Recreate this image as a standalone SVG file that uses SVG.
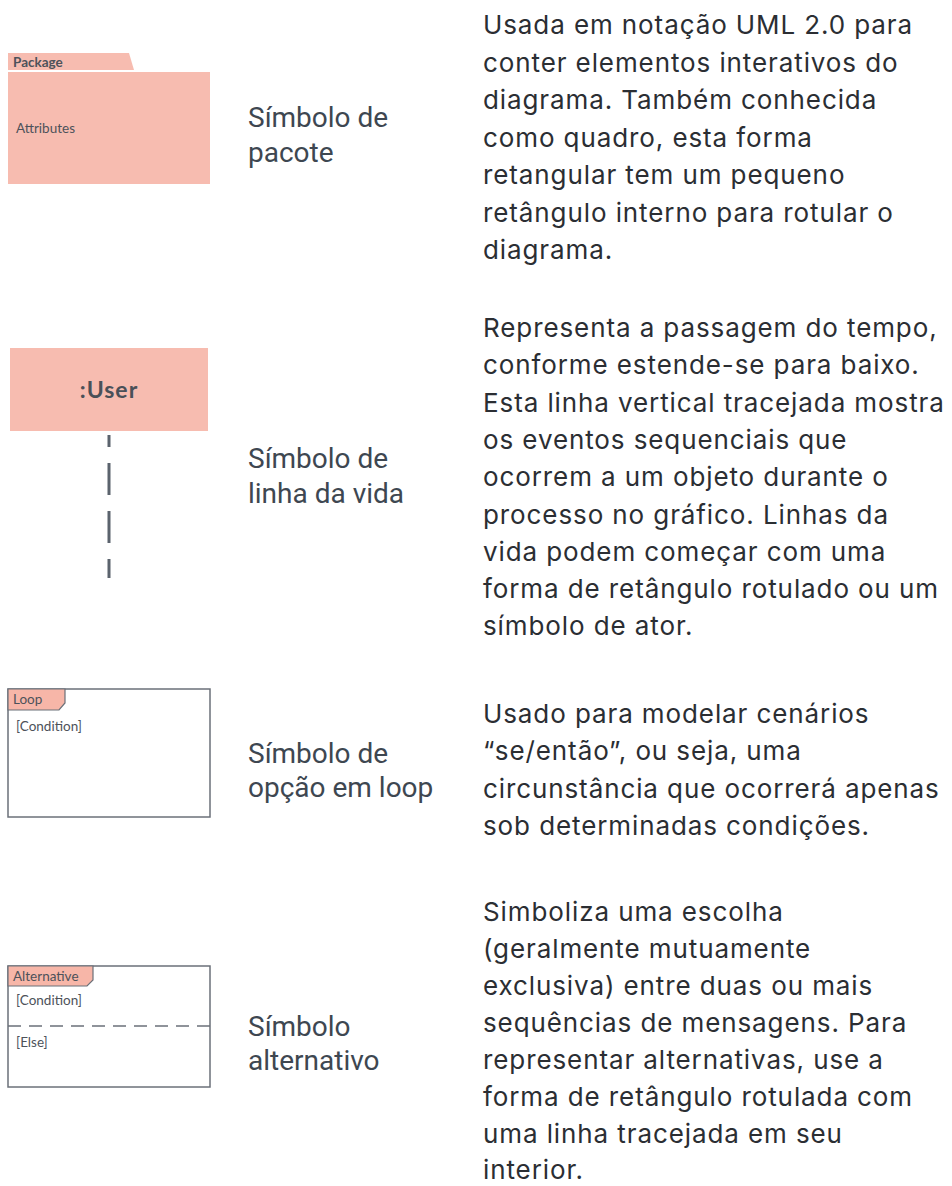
<svg xmlns="http://www.w3.org/2000/svg" width="952" height="1186" viewBox="0 0 952 1186">
<style>
.desc{font-family:Inter,"Noto Sans",sans-serif;font-size:26px;letter-spacing:0.9px;fill:#2b2e33}
.lbl{font-family:Roboto,"Liberation Sans",sans-serif;font-size:28px;fill:#3e4751}
.small{font-family:"Lato","Liberation Sans",sans-serif;font-size:13.5px;fill:#4d525a}
.pink{fill:#f7bcb0}
.frame{fill:#ffffff;stroke:#6b7079;stroke-width:1.5}
.tab{fill:#f7b6a8;stroke:#6b7079;stroke-width:1.2}
</style>
<rect width="952" height="1186" fill="#ffffff"/>

<g id="package">
<path class="pink" d="M8 53 H129 L134 70 H8 Z"/>
<rect class="pink" x="8" y="72" width="202" height="112"/>
<text class="small" x="13" y="67" font-weight="bold">Package</text>
<text class="small" x="16" y="133">Attributes</text>
</g>

<g id="lifeline">
<rect class="pink" x="10" y="348" width="198" height="83"/>
<text x="109" y="398" text-anchor="middle" font-family="Lato,'Liberation Sans',sans-serif" font-size="23" font-weight="bold" letter-spacing="1" fill="#4a5058">:User</text>
</g>

<g id="connectors">
<line x1="109" y1="435" x2="109" y2="578" stroke="#5b636d" stroke-width="3" stroke-dasharray="32 16" stroke-dashoffset="20"/>
</g>

<g id="loop">
<rect class="frame" x="8" y="689" width="202" height="128"/>
<path class="tab" d="M8 689 H65 V703 L59 710 H8 Z"/>
<text class="small" x="13" y="704">Loop</text>
<text class="small" x="16" y="731">[Condition]</text>
</g>

<g id="alternative">
<rect class="frame" x="8" y="966" width="202" height="121"/>
<path class="tab" d="M8 966 H93 V980 L87 986 H8 Z"/>
<text class="small" x="13" y="981">Alternative</text>
<text class="small" x="16" y="1005">[Condition]</text>
<line x1="8" y1="1026" x2="210" y2="1026" stroke="#6b7079" stroke-width="1.5" stroke-dasharray="13 8"/>
<text class="small" x="16" y="1047">[Else]</text>
</g>

<g id="labels">
<text class="lbl" x="248" y="127">Símbolo de</text>
<text class="lbl" x="248" y="162">pacote</text>
<text class="lbl" x="248" y="468">Símbolo de</text>
<text class="lbl" x="248" y="503">linha da vida</text>
<text class="lbl" x="248" y="763">Símbolo de</text>
<text class="lbl" x="248" y="797">opção em loop</text>
<text class="lbl" x="248" y="1036">Símbolo</text>
<text class="lbl" x="248" y="1070">alternativo</text>
</g>

<g id="descriptions">
<text class="desc" x="483" y="34">Usada em notação UML 2.0 para</text>
<text class="desc" x="483" y="71.5">conter elementos interativos do</text>
<text class="desc" x="483" y="109">diagrama. Também conhecida</text>
<text class="desc" x="483" y="146.5">como quadro, esta forma</text>
<text class="desc" x="483" y="184">retangular tem um pequeno</text>
<text class="desc" x="483" y="221.5">retângulo interno para rotular o</text>
<text class="desc" x="483" y="259">diagrama.</text>

<text class="desc" x="483" y="337">Representa a passagem do tempo,</text>
<text class="desc" x="483" y="374.3">conforme estende-se para baixo.</text>
<text class="desc" x="483" y="411.6">Esta linha vertical tracejada mostra</text>
<text class="desc" x="483" y="448.9">os eventos sequenciais que</text>
<text class="desc" x="483" y="486.2">ocorrem a um objeto durante o</text>
<text class="desc" x="483" y="523.5">processo no gráfico. Linhas da</text>
<text class="desc" x="483" y="560.8">vida podem começar com uma</text>
<text class="desc" x="483" y="598.1">forma de retângulo rotulado ou um</text>
<text class="desc" x="483" y="635.4">símbolo de ator.</text>

<text class="desc" x="483" y="723">Usado para modelar cenários</text>
<text class="desc" x="483" y="760.3">“se/então”, ou seja, uma</text>
<text class="desc" x="483" y="797.6">circunstância que ocorrerá apenas</text>
<text class="desc" x="483" y="834.9">sob determinadas condições.</text>

<text class="desc" x="483" y="921">Simboliza uma escolha</text>
<text class="desc" x="483" y="958">(geralmente mutuamente</text>
<text class="desc" x="483" y="995">exclusiva) entre duas ou mais</text>
<text class="desc" x="483" y="1032">sequências de mensagens. Para</text>
<text class="desc" x="483" y="1069">representar alternativas, use a</text>
<text class="desc" x="483" y="1106">forma de retângulo rotulada com</text>
<text class="desc" x="483" y="1143">uma linha tracejada em seu</text>
<text class="desc" x="483" y="1179">interior.</text>
</g>
</svg>
